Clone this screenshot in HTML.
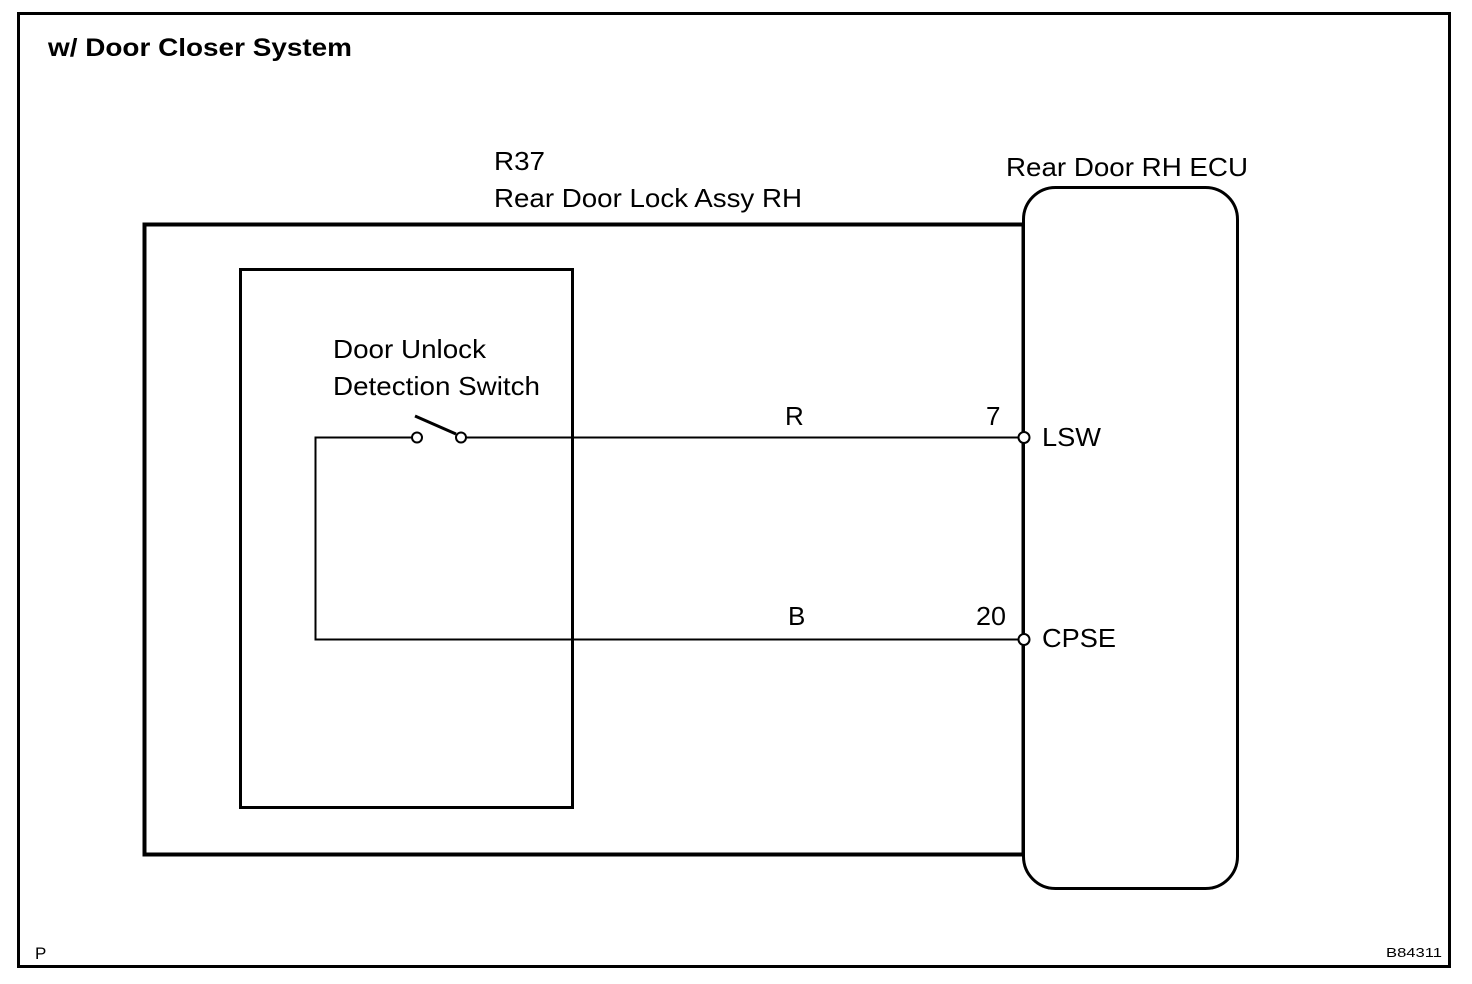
<!DOCTYPE html>
<html><head><meta charset="utf-8"><style>
html,body{margin:0;padding:0;background:#fff}
svg{display:block}
text{font-family:"Liberation Sans",sans-serif;fill:#000}
</style></head><body>
<svg width="1472" height="984" viewBox="0 0 1472 984" xmlns="http://www.w3.org/2000/svg">
<rect x="18.5" y="13.5" width="1431" height="953" fill="none" stroke="#000" stroke-width="3"/>
<text x="48" y="56" font-size="25" font-weight="bold" textLength="304" lengthAdjust="spacingAndGlyphs">w/ Door Closer System</text>
<text x="494" y="170" font-size="26" textLength="51" lengthAdjust="spacingAndGlyphs">R37</text>
<text x="494" y="207" font-size="26" textLength="308" lengthAdjust="spacingAndGlyphs">Rear Door Lock Assy RH</text>
<text x="1006" y="176" font-size="26" textLength="242" lengthAdjust="spacingAndGlyphs">Rear Door RH ECU</text>
<rect x="144.5" y="224.5" width="879" height="630" fill="none" stroke="#000" stroke-width="4"/>
<rect x="240.5" y="269.5" width="332" height="538" fill="none" stroke="#000" stroke-width="3"/>
<rect x="1023.5" y="187.5" width="214" height="701" rx="32" fill="#fff" stroke="#000" stroke-width="3"/>
<text x="333" y="358" font-size="26" textLength="153" lengthAdjust="spacingAndGlyphs">Door Unlock</text>
<text x="333" y="395" font-size="26" textLength="207" lengthAdjust="spacingAndGlyphs">Detection Switch</text>
<polyline points="412,437.5 315.5,437.5 315.5,639.5 1019,639.5" fill="none" stroke="#000" stroke-width="2"/>
<line x1="466" y1="437.5" x2="1019" y2="437.5" stroke="#000" stroke-width="2"/>
<line x1="415" y1="416" x2="456" y2="434" stroke="#000" stroke-width="3"/>
<circle cx="417" cy="437.5" r="5" fill="#fff" stroke="#000" stroke-width="2"/>
<circle cx="461" cy="437.5" r="5" fill="#fff" stroke="#000" stroke-width="2"/>
<circle cx="1024" cy="437.5" r="5.5" fill="#fff" stroke="#000" stroke-width="2"/>
<circle cx="1024" cy="639.5" r="5.5" fill="#fff" stroke="#000" stroke-width="2"/>
<text x="785" y="425" font-size="26">R</text>
<text x="788" y="625" font-size="26">B</text>
<text x="986" y="425" font-size="26">7</text>
<text x="976" y="625" font-size="26" textLength="30" lengthAdjust="spacingAndGlyphs">20</text>
<text x="1042" y="446" font-size="26" textLength="59" lengthAdjust="spacingAndGlyphs">LSW</text>
<text x="1042" y="647" font-size="26" textLength="74" lengthAdjust="spacingAndGlyphs">CPSE</text>
<text x="35" y="959" font-size="17">P</text>
<text x="1386" y="957" font-size="13" textLength="56" lengthAdjust="spacingAndGlyphs">B84311</text>
</svg>
</body></html>
